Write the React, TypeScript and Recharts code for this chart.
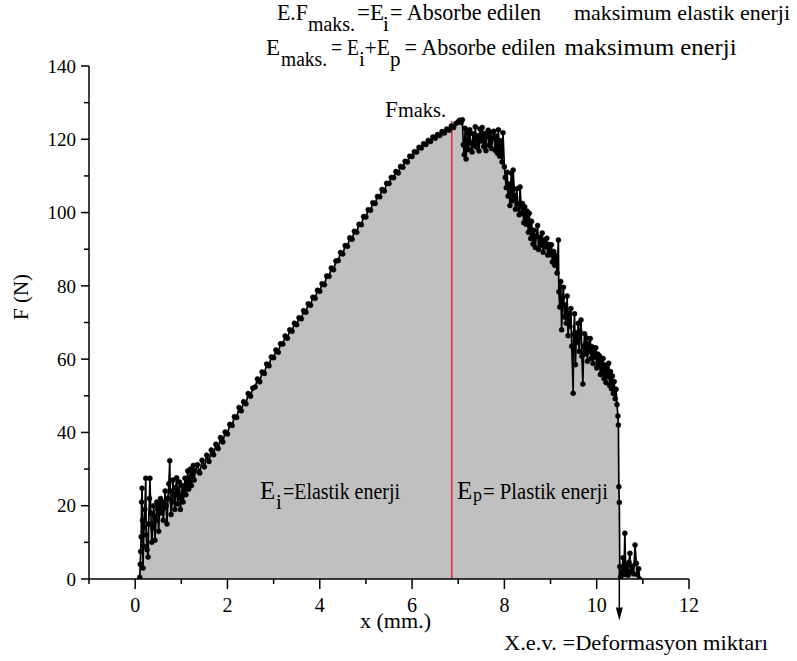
import React from 'react';
import { AreaChart, Area, XAxis, YAxis, ReferenceLine } from 'recharts';

// ---------- data (x in mm, F in N) ----------
const initialNoiseSegment: [number, number][] = [
  [0.10, 0.5], [0.11, 4.0], [0.12, 7.5], [0.13, 11.5], [0.14, 21.0], [0.15, 24.8], [0.16, 16.0], [0.17, 3.0],
  [0.18, 9.0], [0.19, 14.0], [0.21, 19.0], [0.23, 27.5], [0.24, 12.0], [0.26, 8.0], [0.28, 6.0], [0.29, 15.0],
  [0.31, 22.0], [0.32, 27.5], [0.34, 18.0], [0.36, 10.0], [0.38, 14.0], [0.40, 20.0], [0.42, 17.0], [0.43, 10.6],
  [0.45, 16.0], [0.47, 21.0], [0.49, 19.0], [0.51, 13.0], [0.53, 20.0], [0.55, 22.0], [0.57, 18.0], [0.59, 21.0],
  [0.61, 16.0], [0.63, 19.5], [0.65, 24.0], [0.67, 20.0], [0.69, 15.0], [0.71, 22.0], [0.73, 26.0], [0.75, 32.3],
  [0.76, 24.0], [0.78, 17.6], [0.80, 21.0], [0.82, 27.0], [0.84, 23.0], [0.86, 19.0], [0.88, 25.0], [0.90, 27.6],
  [0.92, 20.5], [0.94, 23.0], [0.96, 26.5], [0.98, 19.0], [1.00, 22.0], [1.02, 25.5], [1.04, 21.0], [1.06, 24.0],
  [1.08, 27.5], [1.10, 23.0], [1.12, 26.0], [1.14, 29.5], [1.16, 24.5], [1.18, 27.0], [1.20, 30.0], [1.22, 25.5],
  [1.24, 28.5], [1.26, 31.0], [1.28, 27.0], [1.30, 29.5],
];

const elasticRiseSegment: [number, number][] = [
  [1.35, 31.2], [1.40, 28.9], [1.45, 32.4], [1.50, 30.6], [1.55, 33.8], [1.60, 32.1], [1.65, 35.2], [1.70, 33.9],
  [1.75, 36.8], [1.80, 35.6], [1.85, 38.6], [1.90, 37.4], [1.95, 40.1], [2.00, 39.6], [2.05, 42.2], [2.10, 41.9],
  [2.15, 44.3], [2.20, 44.1], [2.25, 46.8], [2.30, 45.9], [2.35, 48.4], [2.40, 47.8], [2.45, 50.6], [2.50, 49.9],
  [2.55, 52.1], [2.60, 52.4], [2.65, 54.6], [2.70, 53.8], [2.75, 56.5], [2.80, 56.1], [2.85, 58.7], [2.90, 58.2],
  [2.95, 60.6], [3.00, 60.4], [3.05, 62.5], [3.10, 61.9], [3.15, 64.2], [3.20, 64.1], [3.25, 66.3], [3.30, 65.7],
  [3.35, 68.0], [3.40, 67.6], [3.45, 69.8], [3.50, 69.4], [3.55, 71.3], [3.60, 71.0], [3.65, 73.2], [3.70, 72.8],
  [3.75, 75.1], [3.80, 74.7], [3.85, 76.9], [3.90, 76.6], [3.95, 78.8], [4.00, 78.5], [4.05, 80.6], [4.10, 80.3],
  [4.15, 82.7], [4.20, 82.6], [4.25, 84.9], [4.30, 84.4], [4.35, 86.8], [4.40, 86.9], [4.45, 89.1], [4.50, 88.7],
  [4.55, 91.0], [4.60, 90.8], [4.65, 93.1], [4.70, 92.7], [4.75, 94.9], [4.80, 94.6], [4.85, 96.8], [4.90, 96.7],
  [4.95, 98.9], [5.00, 98.8], [5.05, 100.8], [5.10, 100.6], [5.15, 102.7], [5.20, 102.5], [5.25, 104.4], [5.30, 104.3],
  [5.35, 106.3], [5.40, 105.9], [5.45, 108.0], [5.50, 107.9], [5.55, 109.6], [5.60, 109.5], [5.65, 111.2], [5.70, 110.8],
  [5.75, 112.6], [5.80, 112.4], [5.85, 114.0], [5.90, 113.8], [5.95, 115.4], [6.00, 115.3], [6.05, 116.6], [6.10, 116.5],
  [6.15, 117.8], [6.20, 117.6], [6.25, 118.8], [6.30, 118.6], [6.35, 119.7], [6.40, 119.4], [6.45, 120.6], [6.50, 120.3],
  [6.55, 121.3], [6.60, 121.0], [6.65, 122.1], [6.70, 121.7], [6.75, 122.8], [6.80, 122.5], [6.85, 123.6], [6.90, 123.2],
  [6.95, 124.3],
];

const plasticPlateauSegment: [number, number][] = [
  [7.00, 124.8], [7.03, 125.2], [7.06, 124.6], [7.09, 125.3], [7.11, 118.5], [7.13, 115.8], [7.15, 123.0], [7.17, 114.6],
  [7.20, 121.8], [7.22, 117.2], [7.25, 122.6], [7.27, 119.0], [7.30, 116.5], [7.32, 121.5], [7.35, 118.2], [7.37, 123.4],
  [7.40, 117.8], [7.42, 121.0], [7.45, 116.8], [7.47, 122.8], [7.50, 119.5], [7.52, 123.2], [7.55, 118.0], [7.57, 121.6],
  [7.60, 116.9], [7.62, 120.8], [7.65, 122.5], [7.67, 118.4], [7.70, 121.9], [7.72, 117.5], [7.75, 120.4], [7.77, 122.2],
  [7.80, 117.0], [7.82, 120.9], [7.85, 116.2], [7.87, 122.6], [7.90, 115.4], [7.92, 119.6], [7.95, 113.8], [7.97, 121.8],
];

const plasticDeclineSegment: [number, number][] = [
  [8.00, 112.5], [8.02, 109.6], [8.04, 106.8], [8.06, 111.0], [8.08, 104.5], [8.10, 107.8], [8.12, 101.9], [8.15, 110.8],
  [8.17, 103.2], [8.19, 111.6], [8.22, 104.6], [8.24, 100.9], [8.27, 106.5], [8.29, 102.2], [8.32, 99.4], [8.34, 107.0],
  [8.37, 99.8], [8.39, 102.5], [8.42, 97.2], [8.44, 101.6], [8.47, 96.8], [8.49, 100.4], [8.52, 94.6], [8.54, 99.8],
  [8.57, 92.9], [8.59, 97.6], [8.62, 91.4], [8.64, 95.2], [8.67, 90.5], [8.69, 93.6], [8.72, 96.5], [8.74, 89.9],
  [8.77, 93.2], [8.79, 91.1], [8.82, 94.4], [8.84, 89.2], [8.87, 92.5], [8.89, 90.6], [8.92, 93.0], [8.94, 88.4],
  [8.97, 91.3], [8.99, 88.5], [9.02, 91.2], [9.04, 86.5], [9.07, 89.4], [9.09, 85.6], [9.12, 88.2], [9.14, 83.5],
  [9.17, 92.5], [9.18, 78.4], [9.20, 74.2], [9.22, 81.2], [9.24, 68.0], [9.26, 76.8], [9.28, 79.6], [9.30, 71.5],
  [9.32, 74.8], [9.34, 69.8], [9.36, 77.2], [9.38, 66.4], [9.40, 72.6], [9.42, 68.9], [9.44, 73.8], [9.46, 63.5],
  [9.49, 50.7], [9.50, 66.8], [9.52, 72.4], [9.54, 58.5], [9.56, 67.2], [9.58, 64.6], [9.60, 69.8], [9.62, 62.1],
  [9.64, 67.5], [9.66, 70.7], [9.68, 60.8], [9.70, 53.2], [9.72, 63.6], [9.74, 66.9], [9.76, 61.5], [9.78, 65.8],
  [9.80, 59.4], [9.82, 64.2], [9.84, 62.0], [9.86, 65.6], [9.88, 60.2], [9.90, 63.4], [9.92, 58.8], [9.94, 62.6],
  [9.96, 60.5], [9.98, 63.1], [10.00, 57.6], [10.02, 61.4], [10.04, 58.2], [10.06, 60.9], [10.08, 55.8], [10.10, 59.6],
  [10.12, 56.4], [10.14, 60.2], [10.16, 54.7], [10.18, 58.4], [10.20, 53.6], [10.22, 57.8], [10.24, 55.2], [10.26, 58.9],
  [10.28, 52.8], [10.30, 56.6], [10.32, 51.9], [10.34, 55.4], [10.36, 50.6], [10.38, 53.9], [10.40, 49.2], [10.42, 51.8],
  [10.44, 47.6], [10.46, 44.5],
];

const fractureSegment: [number, number][] = [
  [10.47, 42.0], [10.48, 25.2], [10.49, 20.9], [10.50, 3.4], [10.52, 0.6], [10.54, 1.5], [10.57, 5.8], [10.59, 1.2],
  [10.61, 12.5], [10.63, 2.0], [10.66, 3.9], [10.68, 1.0], [10.70, 4.6], [10.72, 7.0], [10.74, 2.0], [10.77, 3.5],
  [10.80, 1.4], [10.83, 9.3], [10.86, 4.3], [10.88, 1.2], [10.91, 2.8], [10.93, 0.0],
];

const xTicks = [-1, 0, 1, 2, 3, 4, 5, 6, 7, 8, 9, 10, 11, 12];
const yTicks = [0, 10, 20, 30, 40, 50, 60, 70, 80, 90, 100, 110, 120, 130, 140];
const F_MAX_X = 6.86;
const F_MAX_LINE_TOP = 125;
const DEFORMATION_X = 10.49;

const curve = [
  ...initialNoiseSegment,
  ...elasticRiseSegment,
  ...plasticPlateauSegment,
  ...plasticDeclineSegment,
  ...fractureSegment,
].map(([x, f]) => ({ x, f }));

const FONT = "'Liberation Serif', 'Times New Roman', Tinos, serif";

const XTick = (props: any) => {
  const { x, y, payload } = props;
  const v = payload.value;
  const major = Math.abs(v % 2) === 0;
  return (
    <g>
      <line x1={x} x2={x} y1={y} y2={y + (major ? 10 : 5)} stroke="#000" strokeWidth={1.5} />
      {major && (
        <text x={x} y={y + 33} textAnchor="middle" style={{ fontFamily: FONT }} fontSize={20} fill="#000">
          {v}
        </text>
      )}
    </g>
  );
};

const YTick = (props: any) => {
  const { x, y, payload } = props;
  const v = payload.value;
  const major = v % 20 === 0;
  return (
    <g>
      <line x1={x - (major ? 8 : 5)} x2={x} y1={y} y2={y} stroke="#000" strokeWidth={1.5} />
      {major && (
        <text x={x - 13} y={y} dy="0.35em" textAnchor="end" style={{ fontFamily: FONT }} fontSize={19} fill="#000">
          {v}
        </text>
      )}
    </g>
  );
};

const ArrowShape = (p: any) => {
  const { x1, y1, x2, y2 } = p;
  return (
    <g>
      <line x1={x1} y1={y1} x2={x2} y2={y2 - 6} stroke="#000" strokeWidth={1.5} />
      <polygon points={`${x2 - 3.5},${y2 - 13} ${x2 + 3.5},${y2 - 13} ${x2},${y2}`} fill="#000" />
    </g>
  );
};

const T = (props: any) => <text style={{ fontFamily: FONT }} fill="#000" {...props} />;

export default function App() {
  return (
    <div style={{ position: 'absolute', left: 0, top: 0, width: 797, height: 661, background: '#fff', fontFamily: FONT }}>
      <AreaChart
        width={797}
        height={661}
        data={curve}
        margin={{ top: 66, right: 108, bottom: 52, left: 0 }}
      >
        <XAxis
          type="number"
          dataKey="x"
          domain={[-1, 12]}
          ticks={xTicks}
          interval={0}
          allowDataOverflow
          height={30}
          tickSize={0}
          tickMargin={0}
          tickLine={false}
          tick={<XTick />}
          axisLine={{ stroke: '#000', strokeWidth: 1.5 }}
        />
        <YAxis
          type="number"
          domain={[0, 140]}
          ticks={yTicks}
          interval={0}
          allowDataOverflow
          width={89}
          tickSize={0}
          tickMargin={0}
          tickLine={false}
          tick={<YTick />}
          axisLine={{ stroke: '#000', strokeWidth: 1.5 }}
        />
        <Area
          type="linear"
          dataKey="f"
          stroke="#000"
          strokeWidth={1.7}
          fill="#c0c0c0"
          fillOpacity={1}
          baseValue={0}
          dot={{ r: 2.5, fill: '#000', stroke: '#000', strokeWidth: 0.5 }}
          activeDot={false}
          isAnimationActive={false}
        />
        <ReferenceLine
          segment={[{ x: F_MAX_X, y: 0 }, { x: F_MAX_X, y: F_MAX_LINE_TOP }]}
          stroke="#e8282b"
          strokeWidth={1.5}
          ifOverflow="visible"
        />
        <ReferenceLine
          segment={[{ x: DEFORMATION_X, y: 4 }, { x: DEFORMATION_X, y: -11.3 }]}
          ifOverflow="visible"
          shape={<ArrowShape />}
        />
      </AreaChart>
      <svg
        width={797}
        height={661}
        style={{ position: 'absolute', left: 0, top: 0, pointerEvents: 'none' }}
      >
        {/* top annotations */}
        <T x={277} y={20} fontSize={23} textLength={31} lengthAdjust="spacingAndGlyphs">E.F</T>
        <T x={308} y={31} fontSize={20} textLength={47} lengthAdjust="spacingAndGlyphs">maks.</T>
        <T x={357} y={20} fontSize={23}>=</T>
        <T x={370} y={20} fontSize={23}>E</T>
        <T x={383} y={31} fontSize={21}>i</T>
        <T x={390} y={20} fontSize={23} textLength={151} lengthAdjust="spacingAndGlyphs">= Absorbe edilen</T>
        <T x={574} y={20} fontSize={22} textLength={216} lengthAdjust="spacingAndGlyphs">maksimum elastik enerji</T>

        <T x={266} y={54.5} fontSize={23}>E</T>
        <T x={281} y={65.5} fontSize={20} textLength={46} lengthAdjust="spacingAndGlyphs">maks.</T>
        <T x={331} y={54.5} fontSize={23} textLength={28} lengthAdjust="spacingAndGlyphs">= E</T>
        <T x={359} y={65.5} fontSize={21}>i</T>
        <T x={364.5} y={54.5} fontSize={23} textLength={25.5} lengthAdjust="spacingAndGlyphs">+E</T>
        <T x={390} y={65.5} fontSize={21}>p</T>
        <T x={404.5} y={54.5} fontSize={23} textLength={151} lengthAdjust="spacingAndGlyphs">= Absorbe edilen</T>
        <T x={564.5} y={54.5} fontSize={23} textLength={172} lengthAdjust="spacingAndGlyphs">maksimum enerji</T>

        {/* in-plot labels */}
        <T x={385} y={117} fontSize={23}>F</T>
        <T x={398} y={117} fontSize={20} textLength={48} lengthAdjust="spacingAndGlyphs">maks.</T>

        <T x={260} y={499} fontSize={25}>E</T>
        <T x={276} y={509} fontSize={21}>i</T>
        <T x={283} y={499} fontSize={23} textLength={117} lengthAdjust="spacingAndGlyphs">=Elastik enerji</T>

        <T x={457} y={499} fontSize={25}>E</T>
        <T x={473} y={501} fontSize={18}>p</T>
        <T x={483} y={499} fontSize={23} textLength={125} lengthAdjust="spacingAndGlyphs">= Plastik enerji</T>

        {/* axis titles */}
        <T x={360} y={628} fontSize={22} textLength={71} lengthAdjust="spacingAndGlyphs">x (mm.)</T>
        <T x={21} y={297} fontSize={21} textAnchor="middle" dy="0.35em" transform="rotate(-90 21 297)">F  (N)</T>

        <T x={504} y={650} fontSize={22} textLength={264} lengthAdjust="spacingAndGlyphs">X.e.v. =Deformasyon miktarı</T>
      </svg>
    </div>
  );
}
